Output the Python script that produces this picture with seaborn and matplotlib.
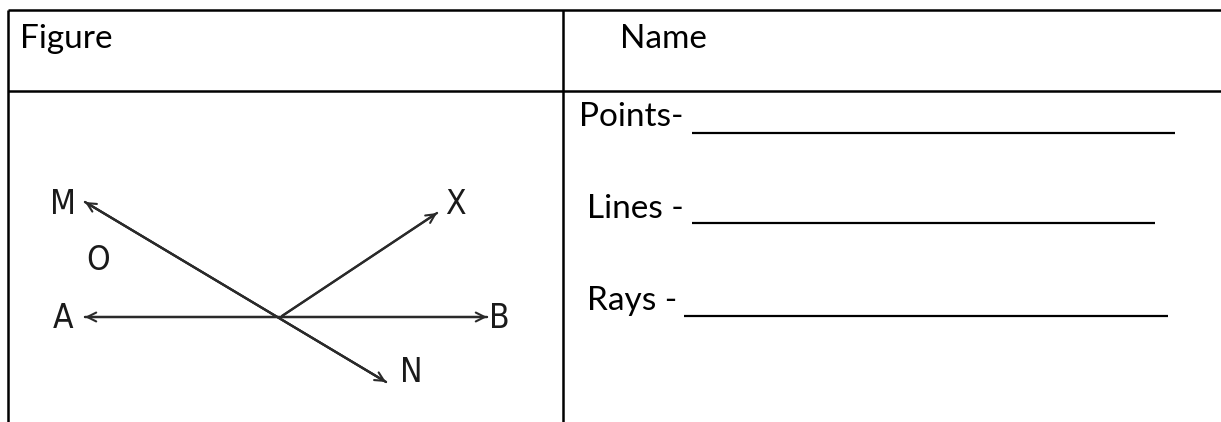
import pandas as pd
import matplotlib.pyplot as plt
import seaborn as sns

# table layout (pixel grid of the page)
col_edges = [7.5, 563]
row_edges = [10, 91]
header_labels = ["Figure", "Name"]
header_x = [20, 620]

# answer lines on the right
answer_labels = ["Points-", "Lines -", "Rays -"]
answer_x = [579, 587, 587]
answer_y = [126, 218, 310]
blank_start = [692, 692, 684]
blank_end = [1175, 1155, 1168]
blank_y = [133, 223, 316]

# geometry figure: named points
pt_names = ["M", "N", "A", "B", "X", "C"]
pt_x = [85, 386, 85, 487, 437, 282]
pt_y = [202, 382, 317, 317, 213, 316]
pts = dict(zip(pt_names, zip(pt_x, pt_y)))

# lines (arrow both ends) and ray (arrow at end)
lines = [("M", "N"), ("A", "B")]
rays = [("C", "X")]

label_names = ["M", "X", "O", "A", "B", "N"]
label_x = [63, 455, 98, 63, 499, 411]
label_y = [205, 205, 260, 318, 318, 373]

sns.set_theme(style="white")
plt.rcParams["font.family"] = ["Lato", "DejaVu Sans"]

fig = plt.figure(figsize=(12.21, 4.22), dpi=100)
ax = fig.add_axes([0, 0, 1, 1])

# table borders
ax.hlines(row_edges, col_edges[0], 1230, color="black", lw=1.8)
ax.vlines(col_edges, row_edges[0], 430, color="black", lw=1.8)

for lab, x in zip(header_labels, header_x):
    ax.text(x, 48, lab, fontsize=24, va="baseline", ha="left", color="black")

for lab, x, y in zip(answer_labels, answer_x, answer_y):
    ax.text(x, y, lab, fontsize=24, va="baseline", ha="left", color="black")
ax.hlines(blank_y, blank_start, blank_end, color="black", lw=1.6)

# geometry lines through seaborn
segs = []
for i, (a, b) in enumerate(lines + rays):
    segs.append({"seg": i, "x": pts[a][0], "y": pts[a][1]})
    segs.append({"seg": i, "x": pts[b][0], "y": pts[b][1]})
df = pd.DataFrame(segs)
sns.lineplot(data=df, x="x", y="y", units="seg", estimator=None, sort=False,
             color="#2a2a2a", lw=1.7, ax=ax, legend=False)
ax.set_xlim(0, 1221)
ax.set_ylim(422, 0)
ax.axis("off")

arrow_kw = dict(arrowstyle="->", color="#2a2a2a", lw=1.5,
                shrinkA=0, shrinkB=0, mutation_scale=16)
for a, b in lines:
    ax.annotate("", xy=pts[a], xytext=pts[b], arrowprops=arrow_kw)
    ax.annotate("", xy=pts[b], xytext=pts[a], arrowprops=arrow_kw)
for a, b in rays:
    ax.annotate("", xy=pts[b], xytext=pts[a], arrowprops=arrow_kw)

for lab, x, y in zip(label_names, label_x, label_y):
    ax.text(x, y, lab, fontsize=24, ha="center", va="center", color="#1a1a1a",
            family=["DejaVu Sans"], fontstretch="condensed")

fig.savefig("out.png", dpi=100)
